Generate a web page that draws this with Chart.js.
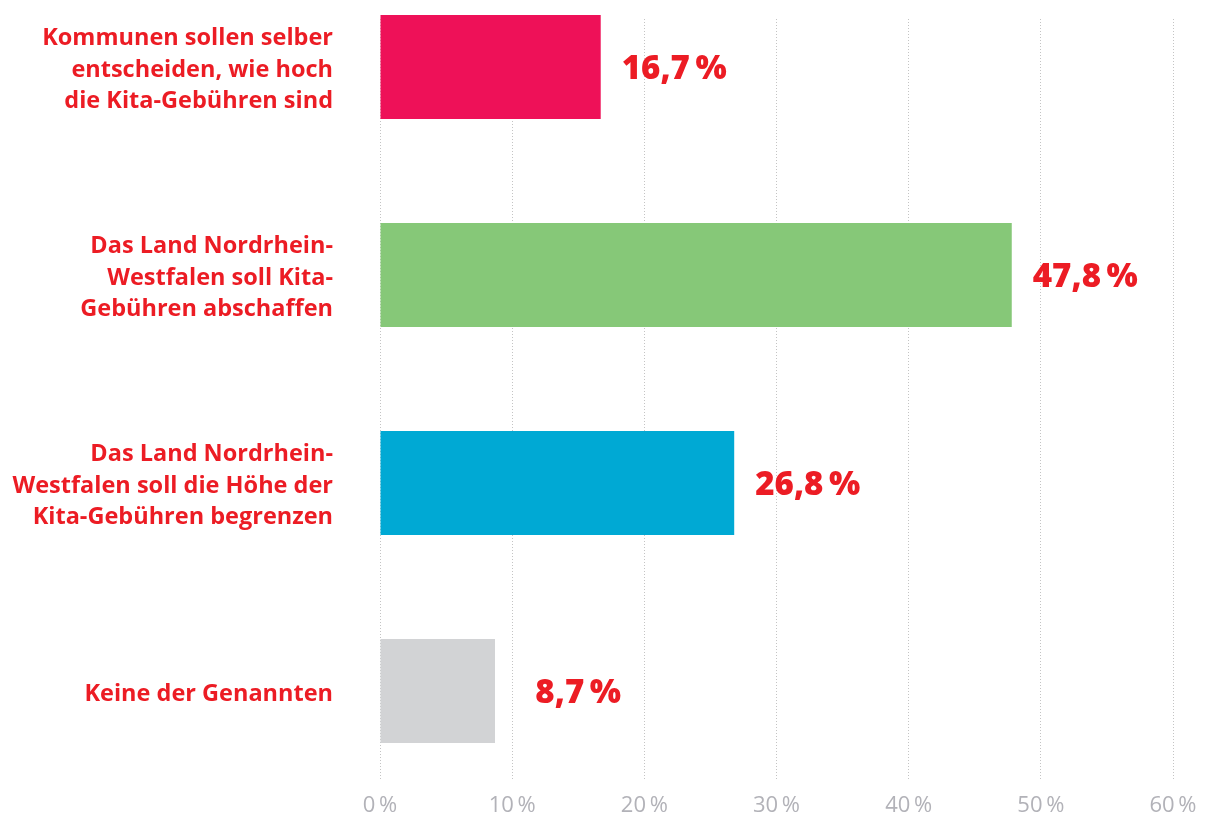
<!DOCTYPE html>
<html>
<head>
<meta charset="utf-8">
<script src="https://cdn.jsdelivr.net/npm/chart.js@4/dist/chart.umd.min.js"></script>
<style>
  html, body { margin: 0; padding: 0; background: #fff; }
  #wrap { width: 1205px; height: 819px; position: relative; }
</style>
</head>
<body>
<div id="wrap"><canvas id="c"></canvas></div>
<script>
const categories = [
  ["Kommunen sollen selber", "entscheiden, wie hoch", "die Kita-Gebühren sind"],
  ["Das Land Nordrhein-", "Westfalen soll Kita-", "Gebühren abschaffen"],
  ["Das Land Nordrhein-", "Westfalen soll die Höhe der", "Kita-Gebühren begrenzen"],
  ["Keine der Genannten"]
];
const values = [16.7, 47.8, 26.8, 8.7];
const barColors = ["#ee1158", "#86c878", "#00a9d4", "#d2d3d5"];
const xTicks = [0, 10, 20, 30, 40, 50, 60];

const RED = "#ec1c24";
const FONT = "'Open Sans', Lato, sans-serif";

const valueLabels = {
  id: "valueLabels",
  afterDatasetsDraw(chart) {
    const ctx = chart.ctx;
    const meta = chart.getDatasetMeta(0);
    ctx.save();
    ctx.fillStyle = RED;
    ctx.font = "800 33px " + FONT;
    ctx.textAlign = "right";
    ctx.textBaseline = "middle";
    meta.data.forEach((bar, i) => {
      const txt = values[i].toFixed(1).replace(".", ",") + "\u2009%";
      ctx.fillText(txt, bar.x + 126, bar.y + 3);
    });
    ctx.restore();
  }
};

new Chart(document.getElementById("c"), {
  type: "bar",
  data: {
    datasets: [{
      data: values.map((v, i) => ({ x: v, y: i })),
      backgroundColor: barColors,
      borderWidth: 0,
      barPercentage: 0.5,
      categoryPercentage: 1.0,
      clip: false
    }]
  },
  options: {
    indexAxis: "y",
    responsive: true,
    maintainAspectRatio: false,
    animation: false,
    layout: { padding: { top: 19, right: 32, left: 0, bottom: 0 } },
    plugins: { legend: { display: false }, tooltip: { enabled: false } },
    scales: {
      x: {
        type: "linear",
        min: 0,
        max: 60,
        afterBuildTicks(scale) { scale.ticks = xTicks.map(v => ({ value: v })); },
        grid: { color: "#c4c4c4", lineWidth: 1, drawTicks: false },
        border: { display: false, dash: [1, 2] },
        ticks: {
          color: "#b2b2b8",
          font: { family: FONT, size: 22 },
          padding: 14,
          callback: v => v + "\u2009%"
        },
        afterFit(scale) { scale.height = 40; scale.paddingLeft = 0; scale.paddingRight = 0; }
      },
      y: {
        type: "linear",
        reverse: true,
        offset: false,
        min: -0.2308,
        max: 3.423,
        afterBuildTicks(scale) { scale.ticks = categories.map((c, i) => ({ value: i })); },
        grid: { display: false, drawTicks: false, offset: false },
        border: { display: false },
        ticks: {
          color: RED,
          font: { family: FONT, size: 23.5, weight: "bold", lineHeight: 1.33 },
          padding: 47,
          labelOffset: 3,
          callback: v => categories[v]
        },
        afterFit(scale) { scale.width = 380; scale.paddingTop = 0; scale.paddingBottom = 0; }
      }
    }
  },
  plugins: [valueLabels]
});
</script>
</body>
</html>
